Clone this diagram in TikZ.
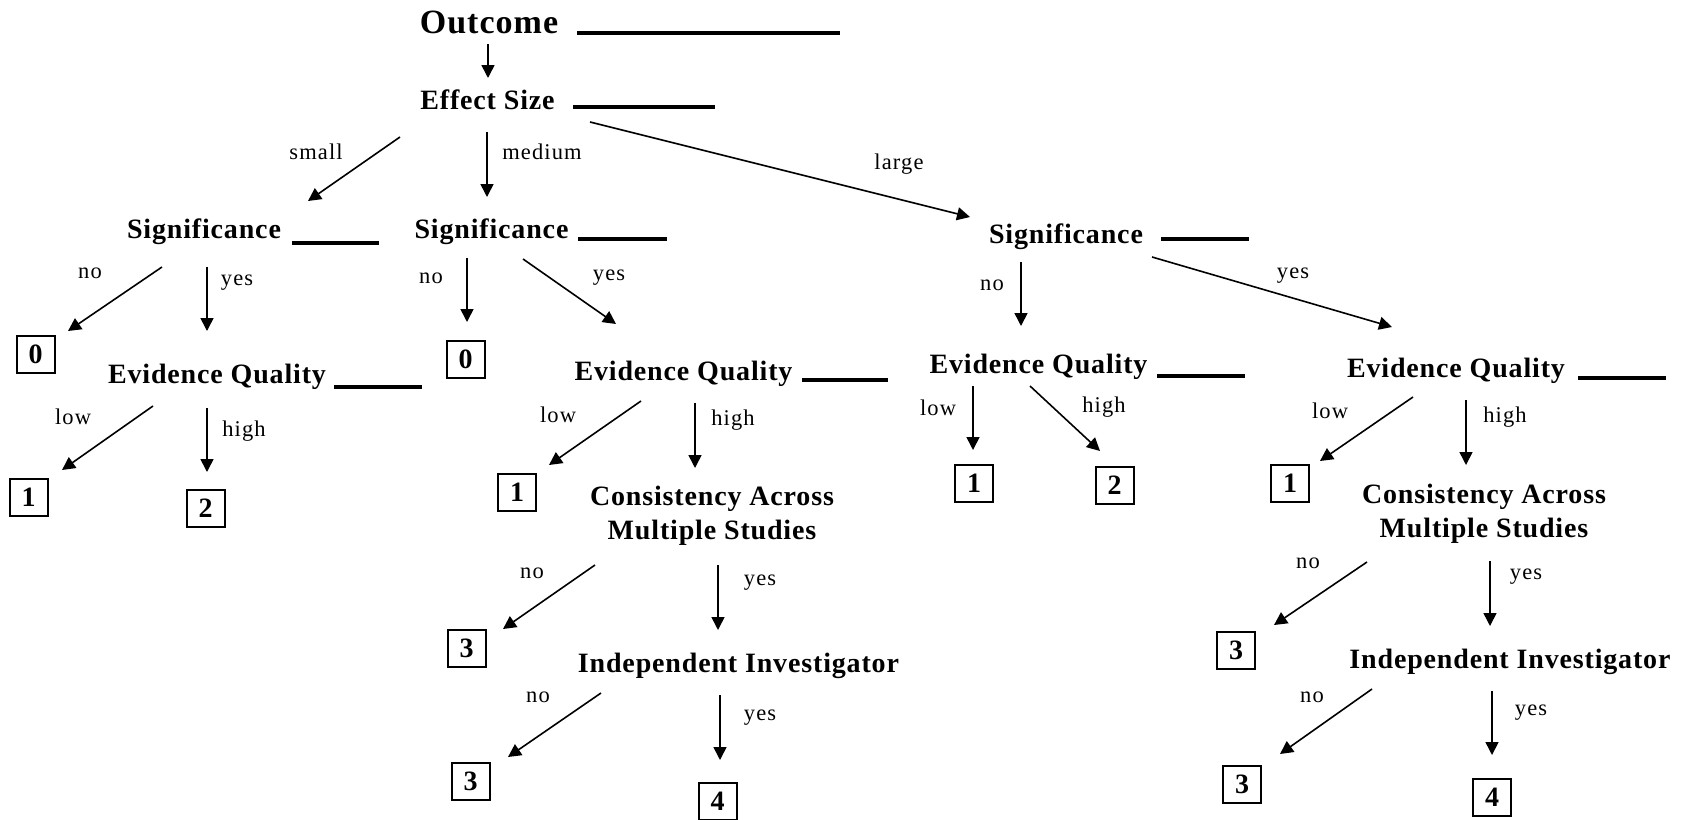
\documentclass[tikz,border=0pt]{standalone}
\usepackage{fontspec}
\setmainfont{Liberation Serif}
\newfontfamily\headfont[LetterSpace=3]{Liberation Serif}
\newfontfamily\labfont[LetterSpace=5]{Liberation Serif}
\usetikzlibrary{arrows.meta,calc}
\begin{document}
\begin{tikzpicture}[x=1pt,y=-1pt,
  head/.style={font=\headfont\bfseries\fontsize{28}{34}\selectfont, inner sep=0pt, anchor=base},
  bighead/.style={font=\headfont\bfseries\fontsize{34}{40}\selectfont, inner sep=0pt, anchor=base},
  twoline/.style={font=\headfont\bfseries\fontsize{28}{34}\selectfont, inner sep=0pt, align=center, anchor=center},
  lab/.style={font=\labfont\fontsize{22.5}{26}\selectfont, inner sep=0pt},
  score/.style={draw, line width=2pt, minimum width=38pt, minimum height=37pt, inner sep=0pt, font=\headfont\bfseries\fontsize{28}{34}\selectfont},
  arr/.style={line width=1.6pt, -{Triangle[length=13pt,width=13pt]}},
  blank/.style={line width=3.5pt}]
\fill[white] (0,0) rectangle (1683,819);
\useasboundingbox (0,0) rectangle (1683,819);

% headings
\node[bighead] (out) at (489,33) {Outcome};
\node[head] (es) at (487.5,109) {Effect Size};
\node[head] (s1) at (204,238) {Significance};
\node[head] (s2) at (491.5,238) {Significance};
\node[head] (s3) at (1066,243) {Significance};
\node[head] (e1) at (217,383) {Evidence Quality};
\node[head] (e2) at (683.5,380) {Evidence Quality};
\node[head] (e3) at (1038.5,373) {Evidence Quality};
\node[head] (e4) at (1456,377) {Evidence Quality};
\node[twoline] (c2) at (712,516) {Consistency Across\\Multiple Studies};
\node[twoline] (c4) at (1484,514) {Consistency Across\\Multiple Studies};
\node[head] (i2) at (738.5,672) {Independent Investigator};
\node[head] (i4) at (1510,668) {Independent Investigator};

% blanks
\draw[blank] (577,33) -- (840,33);
\draw[blank] (573,107) -- (715,107);
\draw[blank] (292,243) -- (379,243);
\draw[blank] (578,239) -- (667,239);
\draw[blank] (1161,239) -- (1249,239);
\draw[blank] (334,387) -- (422,387);
\draw[blank] (802,380) -- (888,380);
\draw[blank] (1157,376) -- (1245,376);
\draw[blank] (1578,378) -- (1666,378);

% scores
\node[score] (b0a) at (35.5,354) {0};
\node[score] (b0b) at (465.5,359) {0};
\node[score] (b1a) at (28.5,497) {1};
\node[score] (b2a) at (205.5,508) {2};
\node[score] (b1b) at (517,492.5) {1};
\node[score] (b1c) at (974,483.5) {1};
\node[score] (b2c) at (1114.5,485.5) {2};
\node[score] (b1d) at (1290,483.5) {1};
\node[score] (b3a) at (466.5,648.5) {3};
\node[score] (b3b) at (470.5,781.5) {3};
\node[score] (b4a) at (717.5,801) {4};
\node[score] (b3c) at (1236,650) {3};
\node[score] (b3d) at (1242,784) {3};
\node[score] (b4b) at (1492,797) {4};

% connectors
\draw[arr] ($(out.base)+(-1,11)$) -- ($(es.base)+(0.5,-31)$);
\draw[arr] ($(es.base)+(-87.5,28)$) -- ($(s1.base)+(104,-37)$);
\draw[arr] ($(es.base)+(-0.5,23)$) -- ($(s2.base)+(-4.5,-41)$);
\draw[arr] ($(es.base)+(102.5,13)$) -- ($(s3.base)+(-96,-26)$);
\draw[arr] ($(s1.base)+(-42,29)$) -- ($(b0a)+(32.5,-23)$);
\draw[arr] ($(s1.base)+(3,29)$) -- ($(e1.base)+(-10,-52)$);
\draw[arr] ($(s2.base)+(-24.5,20)$) -- ($(b0b)+(1.5,-37)$);
\draw[arr] ($(s2.base)+(31.5,21)$) -- ($(e2.base)+(-67.5,-56)$);
\draw[arr] ($(s3.base)+(-45,19)$) -- ($(e3.base)+(-17.5,-47)$);
\draw[arr] ($(s3.base)+(86,14)$) -- ($(e4.base)+(-64,-50)$);
\draw[arr] ($(e1.base)+(-64,23)$) -- ($(b1a)+(33.5,-27)$);
\draw[arr] ($(e1.base)+(-10,25)$) -- ($(b2a)+(1.5,-36)$);
\draw[arr] ($(e2.base)+(-42.5,21)$) -- ($(b1b)+(32,-27.5)$);
\draw[arr] ($(e2.base)+(11.5,23)$) -- ($(c2)+(-17,-48)$);
\draw[arr] ($(e3.base)+(-65.5,13)$) -- ($(b1c)+(-1,-33.5)$);
\draw[arr] ($(e3.base)+(-8.5,13)$) -- ($(b2c)+(-14.5,-34.5)$);
\draw[arr] ($(e4.base)+(-43,20)$) -- ($(b1d)+(30,-22.5)$);
\draw[arr] ($(e4.base)+(10,23)$) -- ($(c4)+(-18,-49)$);
\draw[arr] ($(c2)+(-117,49)$) -- ($(b3a)+(36.5,-19.5)$);
\draw[arr] ($(c2)+(6,49)$) -- ($(i2.base)+(-20.5,-42)$);
\draw[arr] ($(i2.base)+(-137.5,21)$) -- ($(b3b)+(37.5,-24.5)$);
\draw[arr] ($(i2.base)+(-18.5,23)$) -- ($(b4a)+(2.5,-41)$);
\draw[arr] ($(c4)+(-117,48)$) -- ($(b3c)+(38,-25)$);
\draw[arr] ($(c4)+(6,47)$) -- ($(i4.base)+(-20,-42)$);
\draw[arr] ($(i4.base)+(-138,21)$) -- ($(b3d)+(38,-30)$);
\draw[arr] ($(i4.base)+(-18,23)$) -- ($(b4b)+(0,-42)$);

% labels
\node[lab] (l2) at (316,152) {small};
\node[lab] (l3) at (542,152) {medium};
\node[lab] (l4) at (899,164) {large};
\node[lab] (l5) at (90,273) {no};
\node[lab] (l6) at (237,283) {yes};
\node[lab] (l7) at (431,278) {no};
\node[lab] (l8) at (609,278) {yes};
\node[lab] (l9) at (992,285) {no};
\node[lab] (l10) at (1293,276) {yes};
\node[lab] (l11) at (73,417) {low};
\node[lab] (l12) at (244,431) {high};
\node[lab] (l13) at (558,415) {low};
\node[lab] (l14) at (733,420) {high};
\node[lab] (l15) at (938,408) {low};
\node[lab] (l16) at (1104,407) {high};
\node[lab] (l17) at (1330,411) {low};
\node[lab] (l18) at (1505,417) {high};
\node[lab] (l19) at (532,573) {no};
\node[lab] (l20) at (760,583) {yes};
\node[lab] (l21) at (538,697) {no};
\node[lab] (l22) at (760,718) {yes};
\node[lab] (l23) at (1308,563) {no};
\node[lab] (l24) at (1526,577) {yes};
\node[lab] (l25) at (1312,697) {no};
\node[lab] (l26) at (1531,713) {yes};
\end{tikzpicture}
\end{document}
